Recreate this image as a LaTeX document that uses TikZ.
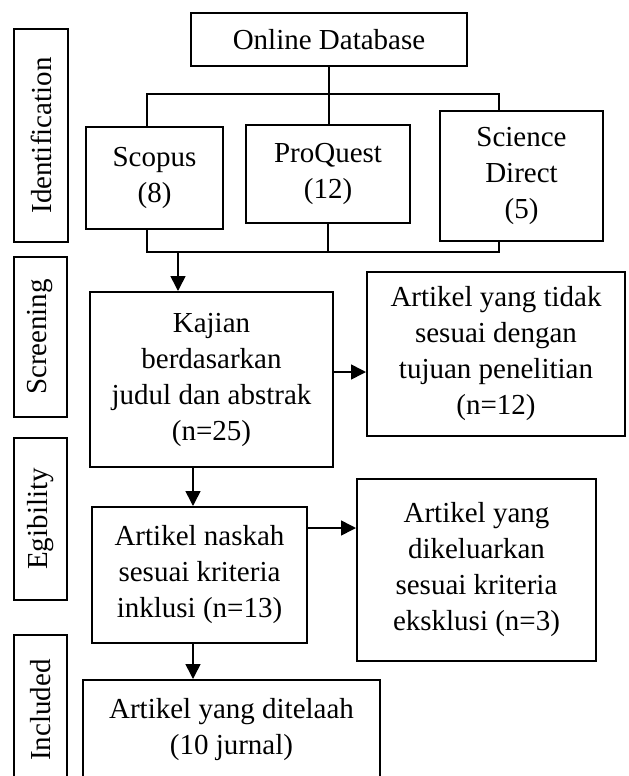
\documentclass[tikz,border=0pt]{standalone}
\usepackage{fontspec}
\setmainfont{Liberation Serif}
\usetikzlibrary{arrows.meta}
\begin{document}
\begin{tikzpicture}[x=0.5pt,y=-0.5pt,
  box/.style={draw, line width=1pt, inner sep=0pt, align=center, font=\fontsize{14.5pt}{18pt}\selectfont},
  phase/.style={draw, line width=1pt, inner sep=0pt, rotate=90, font=\fontsize{14.5pt}{18pt}\selectfont},
  link/.style={line width=0.65pt},
  arr/.style={line width=0.8pt, -{Triangle[length=7.5pt,width=7.5pt]}}]
\useasboundingbox (0,0) rectangle (628,776);
\clip (0,0) rectangle (628,776);
% phase labels
\node[phase, minimum width=106.5pt, minimum height=27pt] (ident) at (41,135.5) {Identification};
\node[phase, minimum width=80pt, minimum height=26.5pt] (scr) at (40.5,337) {Screening};
\node[phase, minimum width=81pt, minimum height=26.5pt] (egi) at (40.5,519) {Egibility};
\node[phase, minimum width=75pt, minimum height=26.5pt] (inc) at (40.5,710) {Included};
% boxes
\node[box, minimum width=138pt, minimum height=26.5pt] (online) at (329,39.5) {Online Database};
\node[box, minimum width=68.5pt, minimum height=51pt] (scopus) at (154.5,178) {Scopus\\(8)};
\node[box, minimum width=82pt, minimum height=49pt] (proquest) at (328,174) {ProQuest\\(12)};
\node[box, minimum width=81.5pt, minimum height=65pt] (sd) at (521.5,176) {Science\\Direct\\(5)};
\node[box, minimum width=121.5pt, minimum height=87.5pt] (kajian) at (211.5,379.5) {Kajian\\berdasarkan\\judul dan abstrak\\(n=25)};
\node[box, minimum width=129pt, minimum height=82pt] (ex1) at (496,354) {Artikel yang tidak\\sesuai dengan\\tujuan penelitian\\(n=12)};
\node[box, minimum width=107.5pt, minimum height=68pt] (naskah) at (199.5,575) {Artikel naskah\\sesuai kriteria\\inklusi (n=13)};
\node[box, minimum width=119.5pt, minimum height=91pt] (ex2) at (476.5,570) {Artikel yang\\dikeluarkan\\sesuai kriteria\\eksklusi (n=3)};
\node[box, minimum width=148.5pt, minimum height=50pt] (final) at (231.5,730) {Artikel yang ditelaah\\(10 jurnal)};
% tree connectors
\coordinate (tl) at (147,94);
\coordinate (tr) at (499,94);
\coordinate (bl) at (147,252);
\coordinate (br) at (499,252);
\coordinate (ab) at (178,252);
\draw[link] (online.south) -- (online.south |- proquest.north);
\draw[link] (tl |- scopus.north) -- (tl) -- (tr) -- (tr |- sd.north);
\draw[link] (bl |- scopus.south) -- (bl) -- (br) -- (br |- sd.south);
\draw[link] (proquest.south) -- (proquest.south |- bl);
\draw[arr] (ab) -- (ab |- kajian.north);
% flow arrows
\draw[arr] ([yshift=3.75pt]kajian.east) -- ([yshift=3.75pt]kajian.east -| ex1.west);
\draw[arr] ([xshift=-9.25pt]kajian.south) -- ([xshift=-9.25pt]kajian.south |- naskah.north);
\draw[arr] ([yshift=23.5pt]naskah.east) -- ([yshift=23.5pt]naskah.east -| ex2.west);
\draw[arr] ([xshift=-3.25pt]naskah.south) -- ([xshift=-3.25pt]naskah.south |- final.north);
\end{tikzpicture}
\end{document}
